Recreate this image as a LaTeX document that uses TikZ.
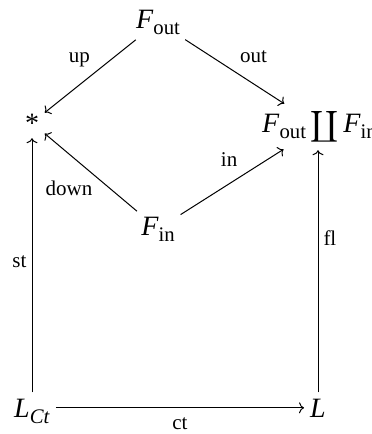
\documentclass[tikz,border=0pt]{standalone}
\usepackage{amsmath}
\usepackage{fontspec}
\setmainfont{Liberation Serif}
\usetikzlibrary{arrows.meta,calc}
\newcommand{\sub}[1]{\raisebox{-0.22em}{\scalebox{0.74}{#1}}}
\newcommand{\Fout}{\textit{F}\sub{out}}
\newcommand{\Fin}{\textit{F}\sub{in}}
\newcommand{\cop}{\scalebox{0.88}{$\displaystyle\coprod$}}
\tikzset{
  obj/.style={font=\fontsize{28}{32}\selectfont, inner sep=4pt},
  lbl/.style={font=\fontsize{21}{25}\selectfont, inner sep=5pt, text height=0.7em, text depth=0.2em},
  mapto/.style={-{To[length=5pt,width=11pt]}, line width=1pt, shorten >=2pt, shorten <=2pt}
}
\begin{document}
\begin{tikzpicture}[x=1pt,y=-1pt]
\useasboundingbox (0,0) rectangle (372,434);
\node[obj, anchor=base] (fo) at (158,28) {\Fout};
\node[obj, anchor=base] (pt) at (32,132) {*};
\node[obj, anchor=base west, inner xsep=0pt] (cp) at (262,132) {\Fout\,\cop\,\Fin};
\node[obj, anchor=base] (fi) at (158,235) {\Fin};
\node[obj, anchor=base] (lct) at (32,417) {\textit{L}\sub{\textit{Ct}}};
\node[obj, anchor=base] (l) at (318,417) {\textit{L}};
\coordinate (cptop) at (l.north |- cp.south);

\draw[mapto] (fo) -- node[lbl, above left, xshift=5pt, yshift=6pt] {up} (pt);
\draw[mapto] (fo) -- node[lbl, above right, yshift=2pt] {out} (cp);
\draw[mapto] (fi) -- node[lbl, below left, xshift=7pt, yshift=-11pt] {down} (pt);
\draw[mapto] (fi) -- node[lbl, above, xshift=-3pt, yshift=8pt] {in} (cp);
\draw[mapto] (lct.north) -- node[lbl, left] {st} (pt);
\draw[mapto] (l.north) -- node[lbl, right, yshift=28pt] {fl} (cptop);
\draw[mapto] (lct.east |- l) -- node[lbl, below, yshift=-9pt] {ct} (l);
\end{tikzpicture}
\end{document}
